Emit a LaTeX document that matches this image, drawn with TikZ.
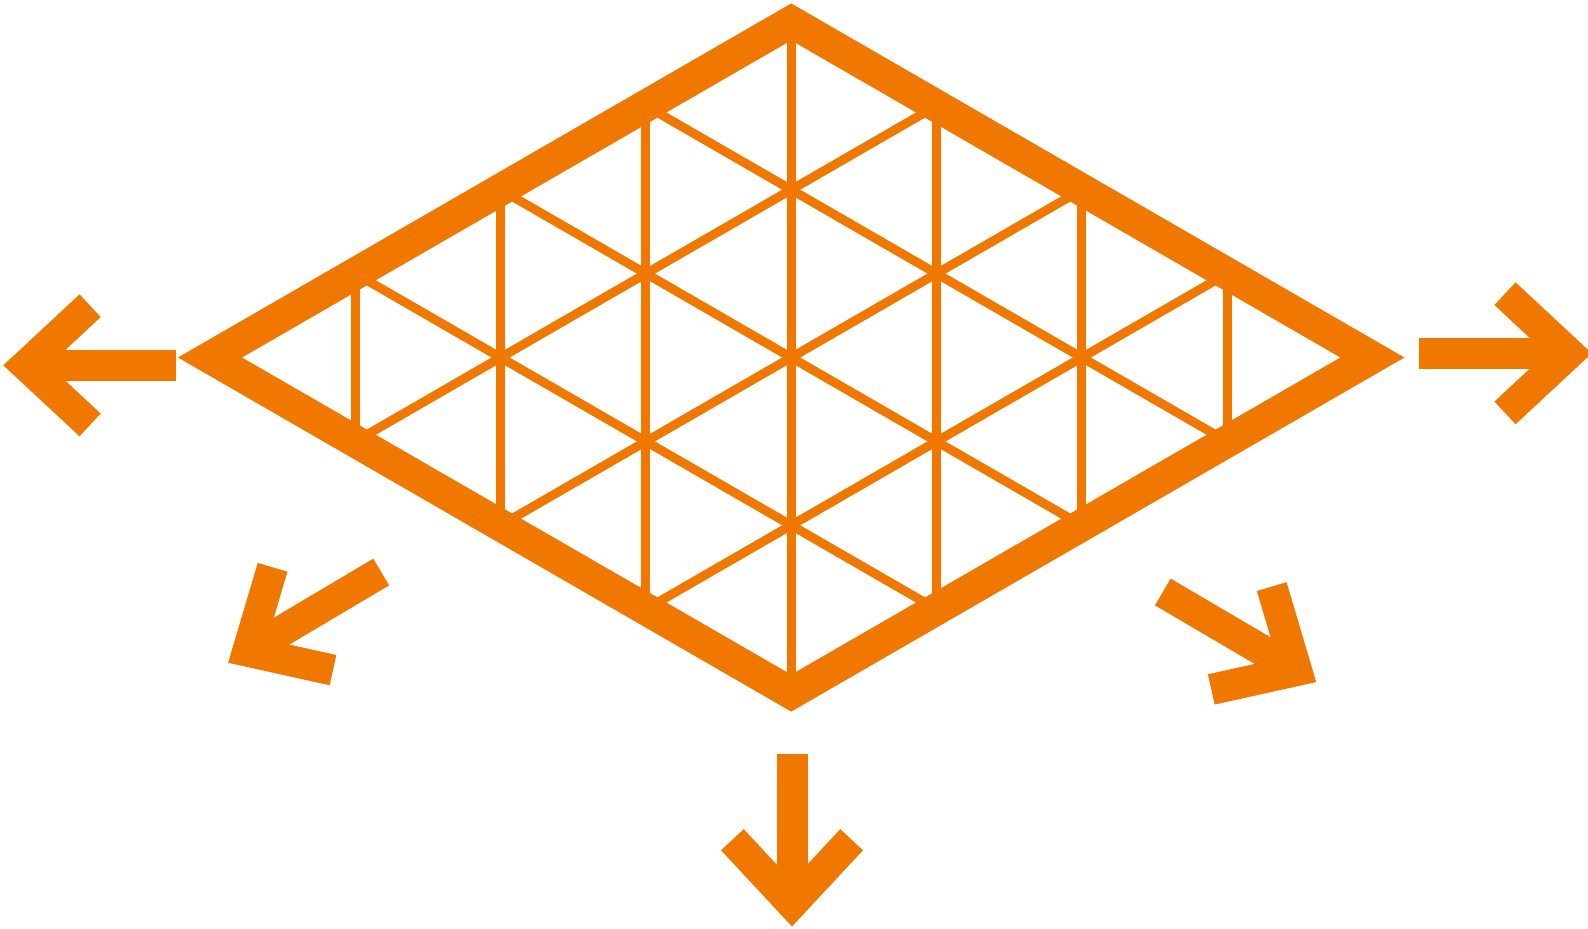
\documentclass[tikz,border=0pt]{standalone}
\usepackage{xcolor}
\usepackage{tikz}
\usetikzlibrary{calc}
\definecolor{meshorange}{RGB}{240,120,0}
\tikzset{
  rim/.style={draw=meshorange, line width=16pt, line join=miter},
  mesh/.style={draw=meshorange, line width=4.5pt},
  shaft/.style={draw=meshorange, line width=15.5pt},
  barb/.style={draw=meshorange, line width=15.5pt, line join=miter},
}
\begin{document}
\begin{tikzpicture}[x=0.5pt,y=-0.5pt]
\useasboundingbox (0,0) rectangle (1588,928);
% rhombus in lattice coordinates
\begin{scope}[shift={(210,357.5)}, x={(72.65pt,41.95pt)}, y={(72.65pt,-41.95pt)}]
  \coordinate (left) at (0,0);
  \coordinate (top) at (4,0);
  \coordinate (right) at (4,4);
  \coordinate (bottom) at (0,4);
  \foreach \i in {1,2,3} {
    \draw[mesh] (\i,0) -- (\i,4);
    \draw[mesh] (0,\i) -- (4,\i);
  }
  \foreach \m in {1,...,4} \draw[mesh] (0,\m) -- (\m,0);
  \foreach \m in {1,2,3} \draw[mesh] (\m,4) -- (4,\m);
  \draw[rim] (left) -- (top) -- (right) -- (bottom) -- cycle;
\end{scope}
% arrows
\coordinate (lS) at (176,365.3);    \coordinate (lV) at (26.1,365.3);
\coordinate (rS) at (1419.3,353.3); \coordinate (rV) at (1569,353.3);
\coordinate (bS) at (792,754.3);    \coordinate (bV) at (792,903.7);
\coordinate (blS) at (381.2,572);   \coordinate (blV) at (247.7,651.2);
\coordinate (brS) at (1162.8,592);  \coordinate (brV) at (1296.6,670.5);
\draw[shaft] (lS) -- (lV);
\draw[barb] (90.1,305.7) -- (lV) -- (90.1,424.9);
\draw[shaft] (rS) -- (rV);
\draw[barb] (1505,293.7) -- (rV) -- (1505,412.9);
\draw[shaft] (bS) -- (bV);
\draw[barb] (732.4,839.7) -- (bV) -- (851.6,839.7);
\draw[shaft] (blS) -- (blV);
\draw[barb] (272.6,567.3) -- (blV) -- (333,670.1);
\draw[shaft] (brS) -- (brV);
\draw[barb] (1271.7,586.6) -- (brV) -- (1211.3,689.4);
\end{tikzpicture}
\end{document}
